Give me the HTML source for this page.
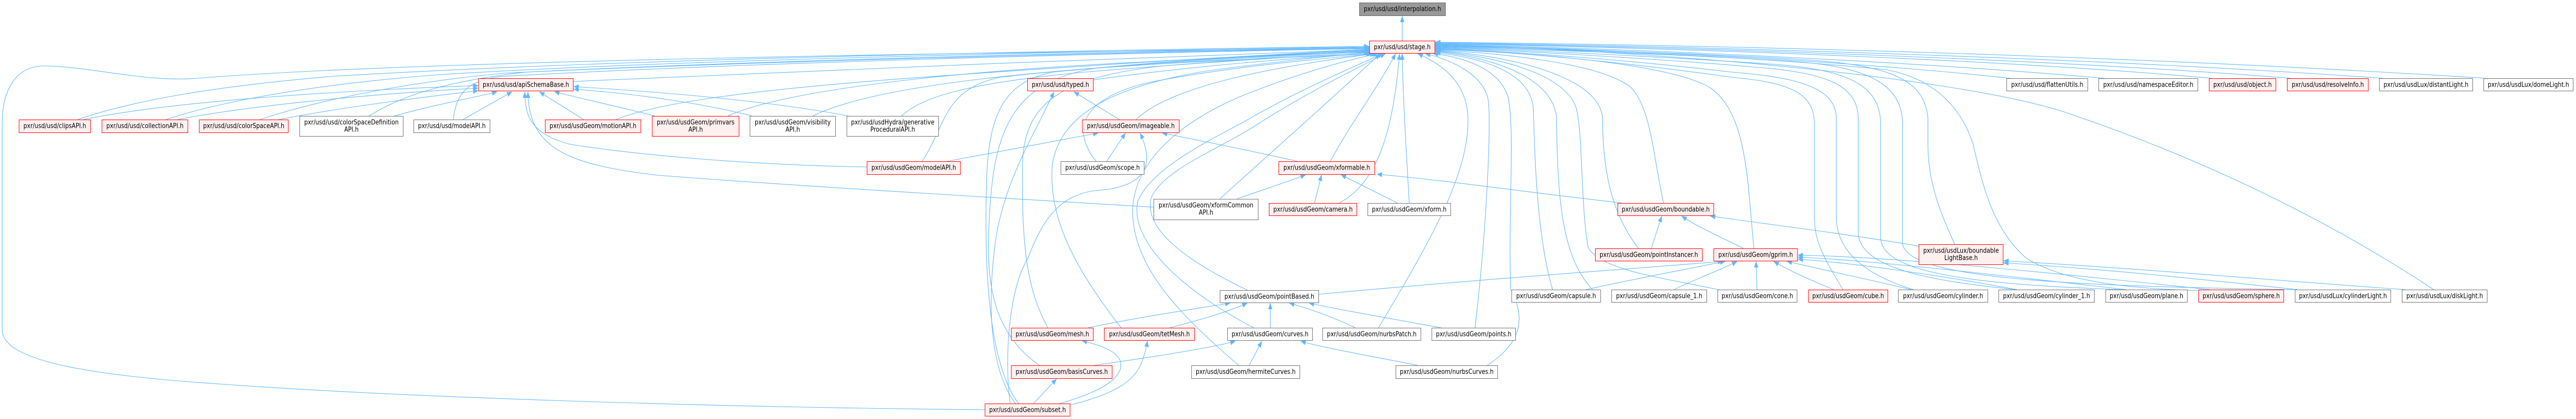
<!DOCTYPE html>
<html><head><meta charset="utf-8"><style>
html,body{margin:0;padding:0;background:#fff;overflow:hidden;}
svg{display:block;width:min(100vw,5875px);height:813px;}
text{font-family:"DejaVu Sans","Liberation Sans",sans-serif;font-size:13px;fill:#000;text-anchor:middle;}
.e{fill:none;stroke:#63b8ff;stroke-width:1.1;marker-end:url(#a);vector-effect:non-scaling-stroke;}
.r{fill:#fff0f0;stroke:#ff0000;stroke-width:1;vector-effect:non-scaling-stroke;}
.w{fill:#fff;stroke:#707070;stroke-width:1;vector-effect:non-scaling-stroke;}
.g{fill:#999;stroke:#666;stroke-width:1;vector-effect:non-scaling-stroke;}
</style></head><body>
<svg viewBox="0 0 5875 813" preserveAspectRatio="none" xmlns="http://www.w3.org/2000/svg">
<defs><marker id="a" viewBox="0 0 12 10" refX="12" refY="5" markerWidth="12" markerHeight="10" markerUnits="userSpaceOnUse" orient="auto"><path d="M0,0L12,5L0,10z" fill="#63b8ff"/></marker></defs>
<g>
<path class="e" d="M3198,79 L3198,31"/>
<path class="e" d="M177,232 C300,196 480,168 760,148 C1400,115 2400,98 3123,90"/>
<path class="e" d="M378,232 C500,198 700,165 1000,145 C1500,118 2400,100 3123,91"/>
<path class="e" d="M593,232 C720,196 920,160 1150,142 C1700,118 2500,101 3123,92"/>
<path class="e" d="M842,225 C910,188 1010,158 1200,140 C1700,120 2500,103 3123,93"/>
<path class="e" d="M1034,232 C1040,185 1060,155 1150,148 C1700,122 2500,104 3123,94"/>
<path class="e" d="M2246,795 C1600,790 900,770 500,745 C200,728 5,700 5,640 L5,240 C5,170 40,128 100,128 C200,128 330,160 450,152 C900,120 2200,100 3123,95"/>
<path class="e" d="M1308,158 C1800,140 2600,110 3123,96"/>
<path class="e" d="M1660,225 C1750,190 2000,150 2500,125 C2800,112 3000,100 3123,97"/>
<path class="e" d="M1404,232 C1500,200 1700,175 2100,150 C2600,120 2900,105 3123,98"/>
<path class="e" d="M1854,225 C1950,185 2150,155 2500,132 C2800,115 3000,103 3123,99"/>
<path class="e" d="M2056,225 C2100,190 2200,160 2500,138 C2800,118 3000,104 3123,100"/>
<path class="e" d="M2103,313 C2160,240 2150,175 2280,150 C2550,122 2950,112 3128,104"/>
<path class="e" d="M2494,155 C2700,130 2950,112 3131,104"/>
<path class="e" d="M2390,636 C2340,560 2330,470 2332,320 C2334,200 2420,150 2650,128 C2900,112 3050,106 3123,101"/>
<path class="e" d="M2591,232 C2660,175 2850,135 3137,104"/>
<path class="e" d="M2500,313 C2440,250 2470,190 2620,160 C2800,130 3000,115 3140,104"/>
<path class="e" d="M2782,386 C2880,310 3040,190 3148,104"/>
<path class="e" d="M2845,563 C2690,500 2610,440 2625,385 C2650,330 2780,290 2870,240 C2980,180 3100,130 3160,104"/>
<path class="e" d="M2859,636 C2700,565 2575,470 2595,390 C2625,330 2740,280 2840,235 C2950,180 3085,130 3155,104"/>
<path class="e" d="M2825,709 C2690,610 2585,520 2583,410 C2585,310 2700,230 2850,180 C2970,140 3080,115 3143,104"/>
<path class="e" d="M2557,636 C2450,520 2390,420 2400,320 C2415,230 2520,170 2750,138 C2950,115 3060,107 3123,102"/>
<path class="e" d="M2371,709 C2270,650 2250,560 2255,450 C2262,260 2300,160 2500,132 C2800,108 3000,103 3123,101"/>
<path class="e" d="M2323,783 C2250,700 2245,500 2250,350 C2255,220 2290,160 2400,140 C2700,115 3000,103 3123,100"/>
<path class="e" d="M2316,783 C2260,720 2250,600 2270,470 C2290,350 2360,260 2404,178"/>
<path class="e" d="M2304,783 C2290,700 2300,560 2345,500 C2380,420 2420,380 2495,370 C2600,365 2640,330 2600,258"/>
<path class="e" d="M3034,313 C3080,240 3150,160 3183,104"/>
<path class="e" d="M3054,394 C3140,355 3177,260 3192,104"/>
<path class="e" d="M3214,394 C3208,300 3200,200 3198,104"/>
<path class="e" d="M3144,636 C3260,470 3350,340 3348,230 C3346,160 3290,125 3233,104"/>
<path class="e" d="M3364,636 C3390,450 3400,260 3395,200 C3390,150 3320,118 3250,104"/>
<path class="e" d="M3392,709 C3480,660 3475,610 3445,560 C3440,400 3455,260 3440,190 C3420,130 3330,110 3268,104"/>
<path class="e" d="M3541,562 C3505,460 3500,300 3497,210 C3490,140 3380,112 3273,102"/>
<path class="e" d="M3632,562 C3565,500 3552,400 3550,230 C3545,150 3400,110 3273,100"/>
<path class="e" d="M3919,562 C3800,540 3650,525 3622,480 C3605,400 3610,260 3595,210 C3570,140 3400,108 3273,99"/>
<path class="e" d="M3737,482 C3680,420 3655,340 3655,230 C3650,150 3450,108 3273,98"/>
<path class="e" d="M3794,394 C3770,300 3765,210 3720,170 C3650,120 3400,102 3273,97"/>
<path class="e" d="M4000,482 C3985,350 3985,220 3900,170 C3800,120 3450,100 3273,96"/>
<path class="e" d="M4203,562 C4160,500 4138,470 4138,420 L4138,240 C4138,180 4080,160 3950,150 C3700,120 3450,100 3273,95"/>
<path class="e" d="M4364,562 C4240,530 4188,480 4188,420 L4188,230 C4188,170 4100,150 3950,140 C3700,115 3450,100 3273,94"/>
<path class="e" d="M4600,562 C4400,545 4238,520 4238,450 L4238,230 C4238,160 4150,140 4000,130 C3750,112 3450,98 3273,93"/>
<path class="e" d="M4840,562 C4500,552 4289,530 4289,460 L4289,240 C4289,160 4200,135 4050,125 C3800,110 3450,96 3273,92"/>
<path class="e" d="M5240,562 C4700,555 4339,540 4339,470 L4339,240 C4339,160 4250,130 4100,120 C3850,105 3450,95 3273,91"/>
<path class="e" d="M5014,564 C4850,560 4700,545 4620,500 C4540,440 4520,350 4500,280 C4470,200 4400,150 4300,135 C4000,110 3600,95 3273,90"/>
<path class="e" d="M4458,474 C4430,420 4397,360 4397,280 L4397,230 C4390,150 4300,125 4100,115 C3800,100 3450,93 3273,89"/>
<path class="e" d="M5552,563 C5300,420 5000,300 4700,215 C4450,150 3800,98 3273,88"/>
<path class="e" d="M4585,152 C4300,125 3800,98 3273,87"/>
<path class="e" d="M4800,152 C4400,122 3800,96 3273,86"/>
<path class="e" d="M5045,152 C4600,118 3900,94 3273,85"/>
<path class="e" d="M5225,152 C4700,116 3900,92 3273,84"/>
<path class="e" d="M5435,152 C4800,113 3900,90 3273,83"/>
<path class="e" d="M5670,152 C4900,110 4000,88 3273,82"/>
<path class="e" d="M190,232 C400,195 800,175 1091,166"/>
<path class="e" d="M405,232 C600,200 900,180 1091,171"/>
<path class="e" d="M635,232 C800,205 1000,185 1091,176"/>
<path class="e" d="M900,225 C980,205 1080,190 1134,178"/>
<path class="e" d="M1056,232 L1168,178"/>
<path class="e" d="M1331,232 L1230,178"/>
<path class="e" d="M1494,225 C1400,205 1320,190 1264,178"/>
<path class="e" d="M1715,225 C1600,200 1450,182 1308,173"/>
<path class="e" d="M1935,225 C1750,195 1500,178 1308,168"/>
<path class="e" d="M1977,324 C1700,320 1450,300 1300,280 C1215,260 1197,230 1197,178"/>
<path class="e" d="M2631,402 C2300,385 1800,360 1500,340 C1300,320 1205,290 1204,178"/>
<path class="e" d="M2553,232 L2449,178"/>
<path class="e" d="M2160,313 C2300,290 2420,272 2505,258"/>
<path class="e" d="M2524,313 L2567,258"/>
<path class="e" d="M2959,313 C2850,292 2750,275 2650,258"/>
<path class="e" d="M2821,386 C2880,368 2940,352 2978,339"/>
<path class="e" d="M2998,394 L3014,339"/>
<path class="e" d="M3187,394 L3058,339"/>
<path class="e" d="M3700,394 C3500,375 3300,350 3140,338"/>
<path class="e" d="M3766,482 L3790,419"/>
<path class="e" d="M3976,482 C3930,462 3870,440 3835,419"/>
<path class="e" d="M4380,478 C4200,452 4000,432 3900,419"/>
<path class="e" d="M3008,571 C3400,540 3750,520 3930,507"/>
<path class="e" d="M3617,562 C3750,537 3850,522 3935,507"/>
<path class="e" d="M3818,562 C3870,540 3930,522 3962,507"/>
<path class="e" d="M4007,562 L4005,507"/>
<path class="e" d="M4182,562 C4120,540 4080,525 4045,507"/>
<path class="e" d="M4359,562 C4250,540 4150,522 4075,507"/>
<path class="e" d="M4600,562 C4400,530 4200,508 4100,503"/>
<path class="e" d="M4850,562 C4500,528 4250,504 4100,499"/>
<path class="e" d="M5040,562 C4600,522 4300,498 4100,495"/>
<path class="e" d="M5240,562 C5000,540 4800,522 4569,510"/>
<path class="e" d="M5485,562 C5200,545 4900,522 4569,506"/>
<path class="e" d="M2481,636 C2600,615 2720,600 2806,588"/>
<path class="e" d="M2668,636 C2740,620 2800,605 2845,588"/>
<path class="e" d="M2897,636 L2897,588"/>
<path class="e" d="M3091,636 C3040,615 2990,600 2940,588"/>
<path class="e" d="M3287,636 C3150,615 3050,600 2985,588"/>
<path class="e" d="M2495,709 C2650,690 2760,675 2818,662"/>
<path class="e" d="M2849,709 L2878,662"/>
<path class="e" d="M3234,709 C3120,690 3020,675 2966,662"/>
<path class="e" d="M2357,783 L2410,735"/>
<path class="e" d="M2417,783 C2520,758 2565,730 2555,700 C2545,680 2510,670 2467,661"/>
<path class="e" d="M2440,786 C2540,765 2590,740 2605,700 C2612,685 2615,672 2617,661"/>
</g>
<g>
<rect class="g" x="3100.5" y="5.5" width="196" height="25"/><text x="3198.5" y="21.5">pxr/usd/usd/interpolation.h</text>
<rect class="r" x="3123.5" y="79.5" width="149" height="24"/><text x="3198" y="95.5">pxr/usd/usd/stage.h</text>
<rect class="r" x="43.5" y="232.5" width="163" height="25"/><text x="125" y="248.5">pxr/usd/usd/clipsAPI.h</text>
<rect class="r" x="232.5" y="232.5" width="196" height="25"/><text x="330.5" y="248.5">pxr/usd/usd/collectionAPI.h</text>
<rect class="r" x="454.5" y="232.5" width="203" height="25"/><text x="556" y="248.5">pxr/usd/usd/colorSpaceAPI.h</text>
<rect class="w" x="683.5" y="225.5" width="236" height="39"/><text x="801.5" y="241.5">pxr/usd/usd/colorSpaceDefinition</text><text x="801.5" y="255.5">API.h</text>
<rect class="w" x="943.5" y="232.5" width="174" height="25"/><text x="1030.5" y="248.5">pxr/usd/usd/modelAPI.h</text>
<rect class="r" x="1091.5" y="152.5" width="216" height="24"/><text x="1199.5" y="168.5">pxr/usd/usd/apiSchemaBase.h</text>
<rect class="r" x="1243.5" y="232.5" width="218" height="25"/><text x="1352.5" y="248.5">pxr/usd/usdGeom/motionAPI.h</text>
<rect class="r" x="1487.5" y="225.5" width="198" height="39"/><text x="1586.5" y="241.5">pxr/usd/usdGeom/primvars</text><text x="1586.5" y="255.5">API.h</text>
<rect class="w" x="1710.5" y="225.5" width="195" height="39"/><text x="1808" y="241.5">pxr/usd/usdGeom/visibility</text><text x="1808" y="255.5">API.h</text>
<rect class="w" x="1931.5" y="225.5" width="209" height="39"/><text x="2036" y="241.5">pxr/usd/usdHydra/generative</text><text x="2036" y="255.5">ProceduralAPI.h</text>
<rect class="r" x="2343.5" y="152.5" width="150" height="24"/><text x="2418.5" y="168.5">pxr/usd/usd/typed.h</text>
<rect class="r" x="2468.5" y="232.5" width="221" height="25"/><text x="2579" y="248.5">pxr/usd/usdGeom/imageable.h</text>
<rect class="r" x="1977.5" y="313.5" width="213" height="25"/><text x="2084" y="329.5">pxr/usd/usdGeom/modelAPI.h</text>
<rect class="w" x="2419.5" y="313.5" width="190" height="25"/><text x="2514.5" y="329.5">pxr/usd/usdGeom/scope.h</text>
<rect class="r" x="2916.5" y="313.5" width="219" height="25"/><text x="3026" y="329.5">pxr/usd/usdGeom/xformable.h</text>
<rect class="w" x="2631.5" y="386.5" width="238" height="40"/><text x="2750.5" y="402.5">pxr/usd/usdGeom/xformCommon</text><text x="2750.5" y="416.5">API.h</text>
<rect class="r" x="2894.5" y="394.5" width="200" height="24"/><text x="2994.5" y="410.5">pxr/usd/usdGeom/camera.h</text>
<rect class="w" x="3119.5" y="394.5" width="189" height="24"/><text x="3214" y="410.5">pxr/usd/usdGeom/xform.h</text>
<rect class="r" x="3689.5" y="394.5" width="219" height="24"/><text x="3799" y="410.5">pxr/usd/usdGeom/boundable.h</text>
<rect class="r" x="3638.5" y="482.5" width="244" height="24"/><text x="3760.5" y="498.5">pxr/usd/usdGeom/pointInstancer.h</text>
<rect class="r" x="3908.5" y="482.5" width="191" height="24"/><text x="4004" y="498.5">pxr/usd/usdGeom/gprim.h</text>
<rect class="r" x="4376.5" y="474.5" width="192" height="39"/><text x="4472.5" y="490.5">pxr/usd/usdLux/boundable</text><text x="4472.5" y="504.5">LightBase.h</text>
<rect class="w" x="2782.5" y="563.5" width="225" height="24"/><text x="2895" y="579.5">pxr/usd/usdGeom/pointBased.h</text>
<rect class="w" x="3447.5" y="562.5" width="203" height="24"/><text x="3549" y="578.5">pxr/usd/usdGeom/capsule.h</text>
<rect class="w" x="3675.5" y="562.5" width="217" height="24"/><text x="3784" y="578.5">pxr/usd/usdGeom/capsule_1.h</text>
<rect class="w" x="3917.5" y="562.5" width="181" height="24"/><text x="4008" y="578.5">pxr/usd/usdGeom/cone.h</text>
<rect class="r" x="4124.5" y="562.5" width="181" height="24"/><text x="4215" y="578.5">pxr/usd/usdGeom/cube.h</text>
<rect class="w" x="4329.5" y="562.5" width="204" height="24"/><text x="4431.5" y="578.5">pxr/usd/usdGeom/cylinder.h</text>
<rect class="w" x="4558.5" y="562.5" width="218" height="24"/><text x="4667.5" y="578.5">pxr/usd/usdGeom/cylinder_1.h</text>
<rect class="w" x="4802.5" y="562.5" width="186" height="24"/><text x="4895.5" y="578.5">pxr/usd/usdGeom/plane.h</text>
<rect class="r" x="5014.5" y="562.5" width="194" height="24"/><text x="5111.5" y="578.5">pxr/usd/usdGeom/sphere.h</text>
<rect class="w" x="5234.5" y="562.5" width="218" height="24"/><text x="5343.5" y="578.5">pxr/usd/usdLux/cylinderLight.h</text>
<rect class="w" x="5478.5" y="562.5" width="194" height="24"/><text x="5575.5" y="578.5">pxr/usd/usdLux/diskLight.h</text>
<rect class="r" x="2306.5" y="636.5" width="187" height="24"/><text x="2400" y="652.5">pxr/usd/usdGeom/mesh.h</text>
<rect class="r" x="2518.5" y="636.5" width="206" height="24"/><text x="2621.5" y="652.5">pxr/usd/usdGeom/tetMesh.h</text>
<rect class="w" x="2799.5" y="636.5" width="194" height="24"/><text x="2896.5" y="652.5">pxr/usd/usdGeom/curves.h</text>
<rect class="w" x="3016.5" y="636.5" width="224" height="24"/><text x="3128.5" y="652.5">pxr/usd/usdGeom/nurbsPatch.h</text>
<rect class="w" x="3265.5" y="636.5" width="191" height="24"/><text x="3361" y="652.5">pxr/usd/usdGeom/points.h</text>
<rect class="r" x="2306.5" y="709.5" width="230" height="25"/><text x="2421.5" y="725.5">pxr/usd/usdGeom/basisCurves.h</text>
<rect class="w" x="2717.5" y="709.5" width="247" height="25"/><text x="2841" y="725.5">pxr/usd/usdGeom/hermiteCurves.h</text>
<rect class="w" x="3183.5" y="709.5" width="232" height="25"/><text x="3299.5" y="725.5">pxr/usd/usdGeom/nurbsCurves.h</text>
<rect class="r" x="2246.5" y="783.5" width="194" height="24"/><text x="2343.5" y="799.5">pxr/usd/usdGeom/subset.h</text>
<rect class="w" x="4576.5" y="152.5" width="185" height="24"/><text x="4669" y="168.5">pxr/usd/usd/flattenUtils.h</text>
<rect class="w" x="4786.5" y="152.5" width="226" height="24"/><text x="4899.5" y="168.5">pxr/usd/usd/namespaceEditor.h</text>
<rect class="r" x="5038.5" y="152.5" width="152" height="24"/><text x="5114.5" y="168.5">pxr/usd/usd/object.h</text>
<rect class="r" x="5216.5" y="152.5" width="185" height="24"/><text x="5309" y="168.5">pxr/usd/usd/resolveInfo.h</text>
<rect class="w" x="5426.5" y="152.5" width="213" height="24"/><text x="5533" y="168.5">pxr/usd/usdLux/distantLight.h</text>
<rect class="w" x="5664.5" y="152.5" width="204" height="24"/><text x="5766.5" y="168.5">pxr/usd/usdLux/domeLight.h</text>
</g>
</svg>
</body></html>
